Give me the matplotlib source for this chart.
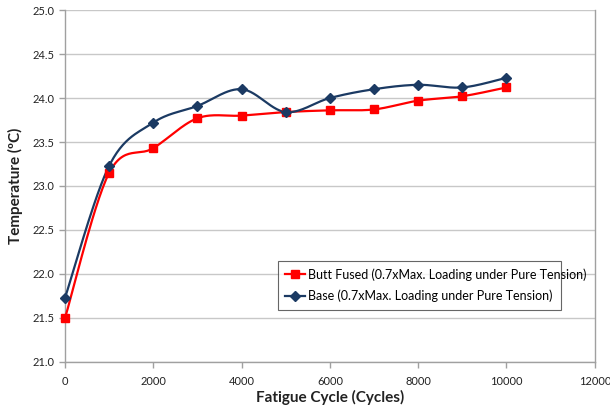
import numpy as np
import matplotlib
matplotlib.use("Agg")
import matplotlib.pyplot as plt

cycles = [0, 1000, 2000, 3000, 4000, 5000, 6000, 7000, 8000, 9000, 10000]
butt_fused = [21.50, 23.15, 23.43, 23.77, 23.80, 23.84, 23.86, 23.87, 23.97, 24.02, 24.12]
base = [21.73, 23.23, 23.72, 23.91, 24.10, 23.84, 24.00, 24.10, 24.15, 24.12, 24.23]
x_ticks = [0, 2000, 4000, 6000, 8000, 10000, 12000]
y_ticks = [21.0, 21.5, 22.0, 22.5, 23.0, 23.5, 24.0, 24.5, 25.0]
label_butt = "Butt Fused (0.7xMax. Loading under Pure Tension)"
label_base = "Base (0.7xMax. Loading under Pure Tension)"

plt.rcParams['font.family'] = ['Lato', 'DejaVu Sans']


def smooth(xs, ys, n=30):
    xs = np.asarray(xs, float)
    ys = np.asarray(ys, float)
    P = np.column_stack([xs, ys])
    out = []
    for i in range(len(P) - 1):
        p0 = P[i - 1] if i > 0 else P[i]
        p1 = P[i]
        p2 = P[i + 1]
        p3 = P[i + 2] if i + 2 < len(P) else P[i + 1]
        c1 = p1 + (p2 - p0) / 6.0
        c2 = p2 - (p3 - p1) / 6.0
        t = np.linspace(0, 1, n)[:, None]
        seg = ((1 - t) ** 3) * p1 + 3 * ((1 - t) ** 2) * t * c1 + 3 * (1 - t) * t ** 2 * c2 + t ** 3 * p2
        out.append(seg if i == 0 else seg[1:])
    S = np.vstack(out)
    return S[:, 0], S[:, 1]


fig = plt.figure(figsize=(6.1, 4.07), dpi=100)
ax = fig.add_axes([0.1066, 0.1106, 0.8684, 0.8648])

red = "#FF0000"
navy = "#1B3A63"

sx, sy = smooth(cycles, butt_fused)
ax.plot(sx, sy, color=red, lw=1.6, zorder=3, clip_on=False)
sx, sy = smooth(cycles, base)
ax.plot(sx, sy, color=navy, lw=1.6, zorder=3, clip_on=False)
ax.plot(cycles, butt_fused, ls="none", marker="s", ms=6, color=red, zorder=4, clip_on=False)
ax.plot(cycles, base, ls="none", marker="D", ms=5, color=navy, zorder=4, clip_on=False)

# legend proxies
h1, = ax.plot([], [], color=red, lw=1.6, marker="s", ms=6)
h2, = ax.plot([], [], color=navy, lw=1.6, marker="D", ms=5)
leg = ax.legend([h1, h2], [label_butt, label_base], loc="lower left",
                bbox_to_anchor=(0.39, 0.131, 0.559, 0.145), mode="expand",
                fontsize=9, frameon=True, fancybox=False, edgecolor="#404040",
                handlelength=1.6, handletextpad=0.2, borderpad=0.6, labelspacing=0.7)
leg.get_frame().set_linewidth(0.8)

ax.set_xlim(0, 12000)
ax.set_ylim(21.0, 25.0)
ax.set_xticks(x_ticks)
ax.set_yticks(y_ticks)
ax.set_xticklabels([str(v) for v in x_ticks])
ax.set_yticklabels([f"{v:.1f}" for v in y_ticks])
ax.grid(axis="y", color="#C8C8C8", lw=1.0)
ax.set_axisbelow(True)
for s in ["top"]:
    ax.spines[s].set_visible(False)
for s in ["left", "bottom", "right"]:
    ax.spines[s].set_color("#A0A0A0")
    ax.spines[s].set_linewidth(1.0)
ax.tick_params(axis="both", labelsize=8, colors="#A0A0A0", labelcolor="#222222", length=4, width=1.0)
ax.tick_params(axis="x", pad=6)
ax.set_xlabel("Fatigue Cycle (Cycles)", fontsize=11, fontweight="bold", color="#222222", labelpad=2)
ax.set_ylabel("Temperature (\u00baC)", fontsize=11, fontweight="bold", color="#222222", labelpad=7)

fig.savefig("out.png", dpi=100)
